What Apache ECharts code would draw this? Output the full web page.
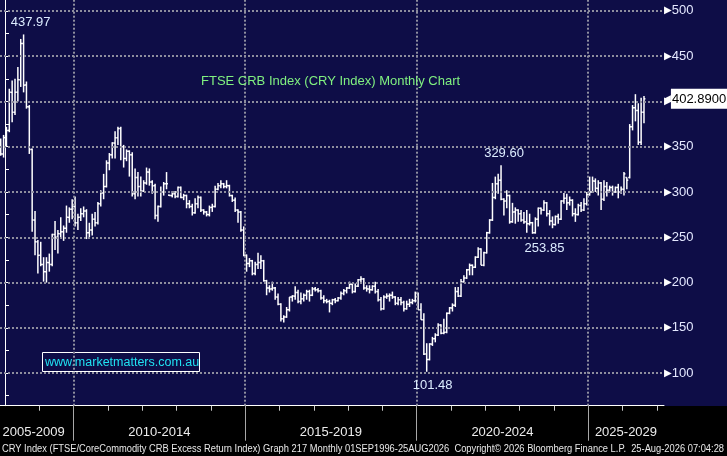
<!DOCTYPE html>
<html>
<head>
<meta charset="utf-8">
<title>FTSE CRB Index (CRY Index) Monthly Chart</title>
<script src="https://cdn.jsdelivr.net/npm/echarts@6/dist/echarts.min.js"></script>
<style>
  html, body { margin: 0; padding: 0; background: #0e0d47; }
  #chart { width: 727px; height: 456px; }
</style>
</head>
<body>
<div id="chart"></div>
<script>
// monthly bars, first bar is Nov 2007 (month -2, where 0 = Jan 2008)
var firstMonth = -2

var opens = [
  350, 342,
  360, 368, 410, 388, 410, 424, 464, 418, 394, 347, 269, 245, // 2008
  230, 220, 212, 222, 220, 253, 250, 254, 256, 260, 272, 281, // 2009
  284, 266, 272, 276, 279, 255, 258, 270, 266, 287, 299, 306, // 2010
  332, 341, 354, 360, 370, 350, 337, 345, 341, 298, 316, 306, // 2011
  301, 310, 322, 311, 307, 274, 284, 300, 309, 296.5, 296, 298, // 2012
  295, 305, 294, 296, 287, 284, 277, 287, 294, 280, 278, 275, // 2013
  283, 284, 303, 307, 309, 306, 307, 296, 291, 280, 278, 258, // 2014
  230, 221, 224, 210, 220, 222, 224, 202, 194, 193, 194, 184, // 2015
  176, 160, 162, 170, 184, 185, 189, 179, 182, 186, 190, 186, // 2016
  193, 192, 191, 183, 180, 179, 177, 181, 180, 183, 188, 191, // 2017
  194, 198, 190, 196, 203, 204, 194, 193, 192, 196, 190, 181, // 2018
  171, 184, 185, 186, 184, 177, 181, 178, 171, 176, 178, 180, // 2019
  188, 170, 159, 121, 115, 132, 138, 142, 153, 144, 145, 166, // 2020
  172, 175, 190, 185, 201, 205, 214, 219, 217, 228, 237, 219, // 2021
  233, 255, 269, 294, 309, 313, 292, 290, 296, 267, 278, 280, // 2022
  276, 269, 267, 265, 266, 255, 270, 282, 280, 288, 276, 268, // 2023
  264, 273, 270, 290, 293, 288, 291, 276, 275, 285, 280, 287, // 2024
  297, 300, 312, 304, 310, 292, 306, 302, 305, 300, 305, 300, // 2025
  303, 316, 316, 372, 393, 390, 355, 388                      // 2026
]
var highs = [
  359, 363,
  372, 414, 423, 425, 438, 469, 473.97, 422, 396, 348, 279, 247,
  245, 228, 228, 232, 254, 268, 258, 272, 263, 285, 283, 292,
  295, 276, 282, 284, 281, 266, 276, 278, 289, 302, 320, 335,
  343, 355, 367, 372, 372, 352, 347, 346, 344, 326, 322, 317,
  313, 327, 326, 313, 309, 285, 306, 311, 322, 297, 301, 301,
  306, 306, 298, 297, 291, 287, 293, 296, 295, 281, 279, 285,
  287, 307, 310, 313, 310, 313, 308, 297, 294, 281, 279, 262,
  231, 227, 225, 223, 233, 230, 225, 203, 197, 201, 195, 188,
  177, 164, 173, 184, 186, 196, 192, 189, 188, 192, 192, 195,
  195, 194, 192, 186, 182, 181, 182, 183, 184, 190, 193, 195,
  201, 199, 199, 204, 207, 205, 197, 197, 197, 201, 193, 184,
  186, 188, 188, 190, 185, 184, 184, 180, 180, 182, 182, 190,
  189, 177, 166, 133, 133, 140, 144, 155, 154, 160, 167, 173,
  177, 195, 195, 204, 208, 215, 221, 220, 229, 239, 238, 234,
  256, 270, 310, 317, 320, 329.6, 293, 302, 297, 288, 283, 281,
  280, 278, 280, 276, 267, 272, 283, 283, 291, 289, 280, 273,
  274, 276, 291, 299, 298, 295, 292, 282, 287, 289, 293, 300,
  317, 317, 315, 313, 311, 313, 311, 307, 307, 306, 309, 306,
  322, 316, 375, 396, 408, 398, 404, 406
]
var lows = [
  340, 338,
  350, 366, 377, 385, 400, 416, 410, 392, 342, 256, 230, 210,
  218, 201, 200, 212, 218, 236, 232, 248, 246, 255, 266, 270,
  262, 258, 268, 272, 248, 250, 252, 262, 264, 284, 292, 305,
  324, 337, 337, 352, 335, 327, 334, 317, 295, 292, 295, 295,
  300, 308, 307, 298, 270, 267, 283, 296, 303, 295.5, 294, 293,
  294, 293, 291, 282, 282, 274, 276, 282, 278, 275, 273, 273,
  278, 283, 302, 304, 304, 304, 295, 289, 278, 266, 256, 229,
  212, 217, 208, 208, 215, 215, 201, 186, 189, 191, 181, 175,
  157, 156, 161, 168, 179, 181, 177, 176, 179, 181, 179, 185,
  190, 189, 181, 177, 177, 167, 175, 177, 179, 181, 186, 188,
  193, 188, 189, 195, 199, 192, 190, 188, 191, 188, 179, 169,
  170, 182, 179, 182, 175, 175, 175, 168, 170, 173, 176, 178,
  170, 159, 120, 101.48, 114, 130, 134, 141, 143, 143, 144, 165,
  168, 173, 184, 184, 200, 204, 208, 208, 216, 227, 219, 218,
  232, 254, 268, 292, 298, 291, 274, 282, 265, 266, 265, 267,
  267, 265, 255, 263, 253.85, 254, 262, 275, 279, 273, 263, 260,
  263, 265, 269, 287, 280, 285, 273, 267, 274, 278, 279, 285,
  296, 299, 300, 296, 280, 290, 295, 300, 296, 299, 293, 298,
  296, 303, 315, 368, 378, 352, 352, 376
]
var closes = [
  342, 360,
  368, 410, 388, 410, 424, 464, 418, 394, 347, 269, 245, 230,
  220, 212, 222, 220, 253, 250, 254, 256, 260, 272, 281, 284,
  266, 272, 276, 279, 255, 258, 270, 266, 287, 299, 306, 332,
  341, 354, 360, 370, 350, 337, 345, 341, 298, 316, 306, 301,
  310, 322, 311, 307, 274, 284, 300, 309, 309, 296, 298, 295,
  305, 294, 296, 287, 284, 277, 287, 294, 280, 278, 275, 283,
  284, 303, 307, 309, 306, 307, 296, 291, 280, 278, 258, 230,
  221, 224, 210, 220, 222, 224, 202, 194, 193, 194, 184, 176,
  160, 162, 170, 184, 185, 189, 179, 182, 186, 190, 186, 193,
  192, 191, 183, 180, 179, 177, 181, 180, 183, 188, 191, 194,
  198, 190, 196, 203, 204, 194, 193, 192, 196, 190, 181, 171,
  184, 185, 186, 184, 177, 181, 178, 171, 176, 178, 180, 188,
  170, 159, 121, 115, 132, 138, 142, 153, 144, 145, 166, 172,
  175, 190, 185, 201, 205, 214, 219, 217, 228, 237, 219, 233,
  255, 269, 294, 309, 313, 292, 290, 296, 267, 278, 280, 276,
  269, 267, 265, 266, 255, 270, 282, 280, 288, 276, 268, 264,
  273, 270, 290, 293, 288, 291, 276, 275, 285, 280, 287, 297,
  300, 312, 304, 310, 292, 306, 302, 305, 300, 305, 300, 303,
  320, 313, 372, 393, 390, 355, 388, 402.89
]

// axis: months since Jan 2008
var xMin = -1.75
var xMax = 230.5
var yearTicks = [12, 24, 36, 48, 60, 72, 84, 96, 108, 120, 132, 144, 156, 168, 180, 192, 204, 216, 228]
var periodTicks = [24, 84, 144, 204]
var periodLabels = ['2005-2009', '2010-2014', '2015-2019', '2020-2024', '2025-2029']
var periodLabelPos = [10, 54, 114, 174, 217.2]

var yMin = 64
var yMax = 512
var yLabels = [100, 150, 200, 250, 300, 350, 400, 450, 500]
var yTicks = [75, 100, 125, 150, 175, 200, 225, 250, 275, 300, 325, 350, 375, 400, 425, 450, 475, 500]

var lastValue = 402.89
var lastLabel = '402.8900'

// text flags at the extremes: month, value, text
var flagMonths = [6, 173, 184, 147]
var flagValues = [473.97, 329.6, 253.85, 101.48]
var flagTexts = ['437.97', '329.60', '253.85', '101.48']
var flagOffsets = [[7, -12], [3, -12], [12, 15], [6, 14]]

var titleText = 'FTSE CRB Index (CRY Index) Monthly Chart'
var siteText = 'www.marketmatters.com.au'
var footerText = 'CRY Index (FTSE/CoreCommodity CRB Excess Return Index) Graph 217 Monthly 01SEP1996-25AUG2026  Copyright\u00a9 2026 Bloomberg Finance L.P.  25-Aug-2026 07:04:28'

var FONT = '"Liberation Sans", Arial, sans-serif'
var NAVY = '#0e0d47'

var bars = opens.map(function (o, i) {
  return [firstMonth + i + 0.5, o, highs[i], lows[i], closes[i]]
})

function renderBar (params, api) {
  var x = api.value(0)
  var pO = api.coord([x, api.value(1)])
  var pH = api.coord([x, api.value(2)])
  var pL = api.coord([x, api.value(3)])
  var pC = api.coord([x, api.value(4)])
  var half = api.size([1, 0])[0] * 0.5
  var style = { stroke: '#ffffff', lineWidth: 1.5 }
  return {
    type: 'group',
    children: [
      { type: 'line', shape: { x1: pH[0], y1: pH[1], x2: pL[0], y2: pL[1] }, style: style },
      { type: 'line', shape: { x1: pO[0] - half, y1: pO[1], x2: pO[0], y2: pO[1] }, style: style },
      { type: 'line', shape: { x1: pC[0], y1: pC[1], x2: pC[0] + half, y2: pC[1] }, style: style }
    ]
  }
}

var gridStyle = { color: '#8e8e9e', type: [2, 2], width: 2 }
var gridLines = yLabels.map(function (v) { return { yAxis: v } })
  .concat(periodTicks.map(function (v) { return { xAxis: v } }))

// measure footer so it fits the width
var ctx = document.createElement('canvas').getContext('2d')
ctx.font = '10px ' + FONT
var footerScale = 722 / ctx.measureText(footerText).width

var chart = echarts.init(document.getElementById('chart'))
var option = {
  backgroundColor: NAVY,
  animation: false,
  title: {
    text: titleText,
    left: 196,
    top: 70,
    textStyle: { color: '#80f080', fontSize: 13, fontWeight: 'normal', fontFamily: FONT }
  },
  grid: { left: 0, right: 63, top: 0, bottom: 50.3, outerBoundsMode: 'none' },
  xAxis: [{
    type: 'value',
    min: xMin,
    max: xMax,
    position: 'bottom',
    axisLine: { show: true, lineStyle: { color: '#ffffff', width: 1 } },
    axisTick: { show: true, customValues: yearTicks, length: 5, lineStyle: { color: '#cccccc' } },
    axisLabel: { show: false },
    splitLine: { show: false }
  }, {
    type: 'value',
    min: xMin,
    max: xMax,
    position: 'bottom',
    axisLine: { show: false },
    axisTick: { show: true, customValues: periodTicks, length: 35, lineStyle: { color: '#a8a8a8' } },
    axisLabel: {
      show: true,
      customValues: periodLabelPos,
      margin: 20,
      color: '#ececec',
      fontSize: 13,
      fontFamily: FONT,
      formatter: function (v) {
        var i = periodLabelPos.indexOf(v)
        return i >= 0 ? periodLabels[i] : ''
      }
    },
    splitLine: { show: false }
  }],
  yAxis: [{
    type: 'value',
    position: 'right',
    min: yMin,
    max: yMax,
    axisLine: { show: true, lineStyle: { color: '#ffffff', width: 1 } },
    axisTick: { show: true, customValues: yTicks, length: 4, lineStyle: { color: '#ffffff' } },
    axisLabel: {
      show: true,
      customValues: yLabels,
      margin: 0,
      formatter: function (v) { return '{t|\u25B6}{v|' + v + '}' },
      rich: {
        t: { color: '#ffffff', fontSize: 10, fontFamily: 'DejaVu Sans' },
        v: { color: '#e4e8ff', fontSize: 13, fontFamily: FONT }
      }
    },
    splitLine: { show: false }
  }, {
    // last price flag on the right axis
    type: 'value',
    position: 'right',
    min: yMin,
    max: yMax,
    axisLine: { show: false },
    axisTick: { show: false },
    axisLabel: {
      show: true,
      customValues: [lastValue],
      margin: 0,
      formatter: function () { return '{a|\u25C0}{b|' + lastLabel + '}' },
      rich: {
        a: { color: '#ffffff', fontSize: 9, fontFamily: 'DejaVu Sans' },
        b: { color: '#000000', backgroundColor: '#ffffff', fontSize: 13, fontFamily: FONT, padding: [4, 2, 3, 1] }
      }
    },
    splitLine: { show: false }
  }],
  graphic: [
    { type: 'rect', z: -100, shape: { x: 0, y: 406, width: 727, height: 50 }, style: { fill: '#000000' } },
    { type: 'rect', shape: { x: 42.5, y: 352.5, width: 157, height: 19 }, style: { fill: NAVY, stroke: '#ffffff', lineWidth: 1 } },
    { type: 'text', x: 45, y: 362.5, style: { text: siteText, fill: '#20e2f2', font: '12.5px ' + FONT, verticalAlign: 'middle' } },
    { type: 'text', x: 2, y: 449, scaleX: footerScale, style: { text: footerText, fill: '#e8e8e8', font: '10px ' + FONT, verticalAlign: 'middle' } }
  ],
  series: [{
    type: 'line',
    data: [],
    z: 1,
    silent: true,
    markLine: {
      silent: true,
      symbol: ['none', 'none'],
      animation: false,
      label: { show: false },
      lineStyle: gridStyle,
      data: gridLines
    }
  }, {
    type: 'custom',
    z: 3,
    renderItem: renderBar,
    encode: { x: 0, y: [1, 2, 3, 4] },
    data: bars,
    markPoint: {
      silent: true,
      animation: false,
      symbol: 'circle',
      symbolSize: 1,
      itemStyle: { color: 'rgba(0,0,0,0)' },
      data: flagTexts.map(function (t, i) {
        return {
          coord: [flagMonths[i] + 0.5, flagValues[i]],
          label: {
            show: true,
            formatter: t,
            offset: flagOffsets[i],
            color: '#dcecff',
            fontSize: 13,
            fontFamily: FONT
          }
        }
      })
    }
  }]
}
chart.setOption(option)
</script>
</body>
</html>
